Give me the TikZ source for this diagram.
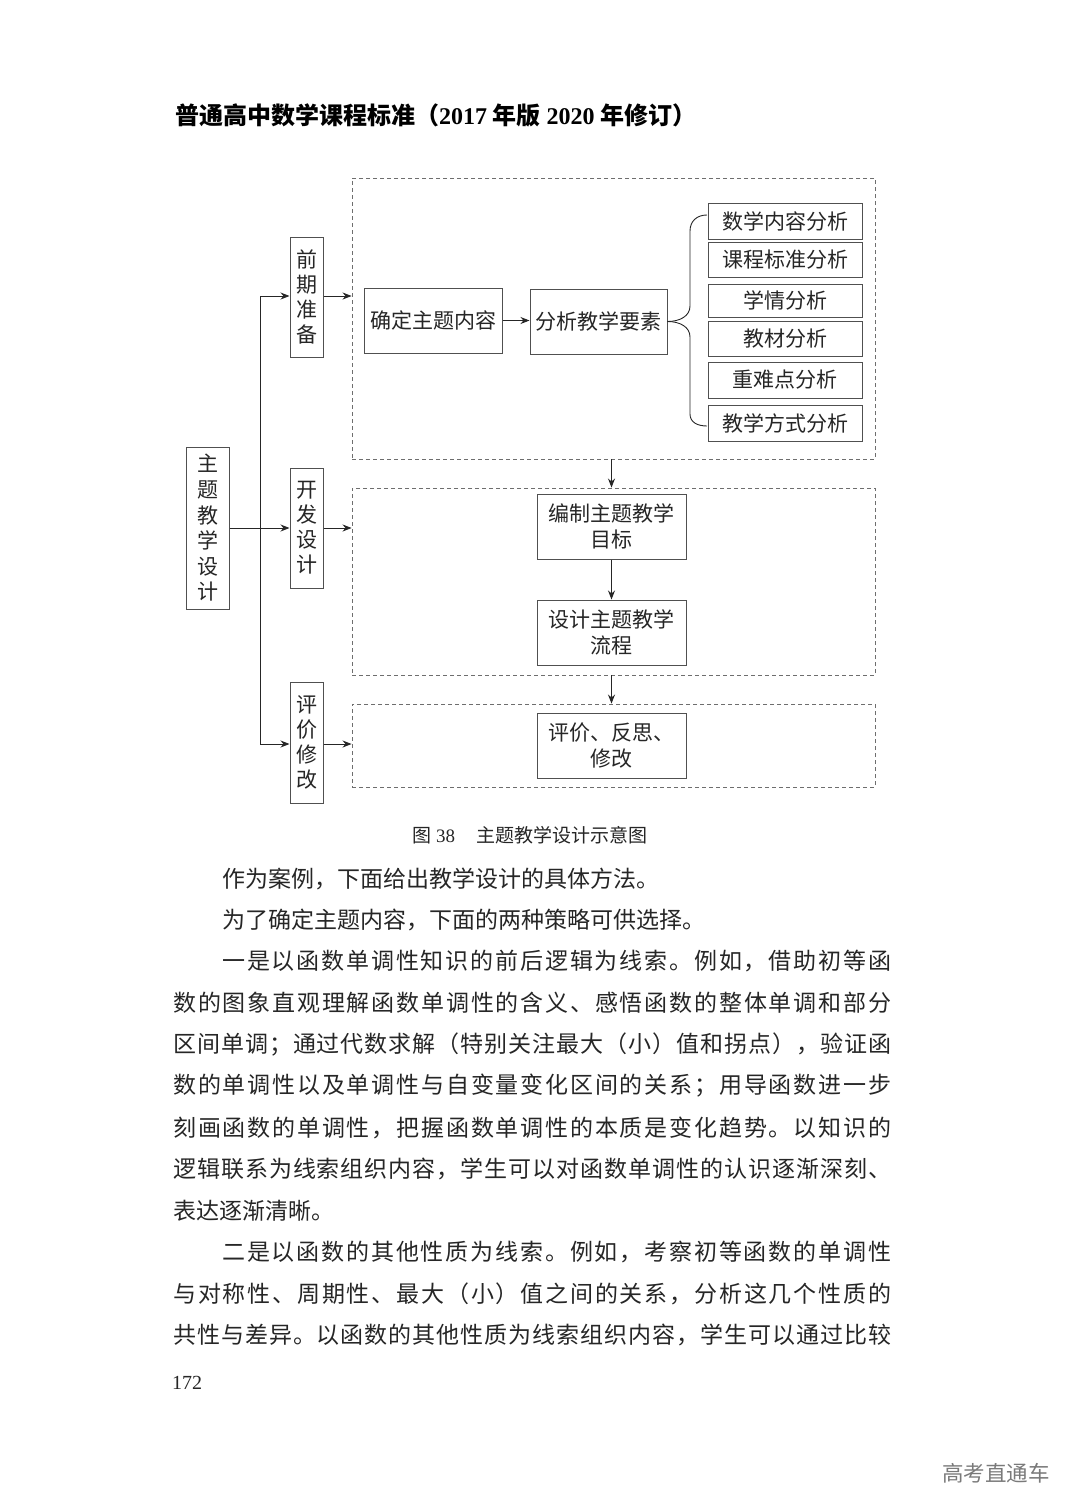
\documentclass[tikz,border=0pt]{standalone}
\usepackage{fontspec}
\setmainfont{Liberation Serif}
\newfontfamily\cjk{Noto Sans CJK SC}
\usetikzlibrary{arrows.meta}
\definecolor{ink}{HTML}{262626}
\definecolor{boxline}{HTML}{505050}
\definecolor{dashline}{HTML}{6E6E6E}
\definecolor{wm}{HTML}{7A7A7A}
\makeatletter
\def\spr@end{\spr@end}
\newcommand\spreadto[2]{\hbox to #1{\spr@first#2\spr@end}}
\def\spr@first#1{#1\spr@next}
\def\spr@next#1{\ifx#1\spr@end\else\hfil#1\expandafter\spr@next\fi}
\makeatother
\tikzset{
  box/.style={draw=boxline, line width=1pt, inner sep=0pt, text=ink,
    font=\cjk\fontsize{21}{26}\selectfont, align=center},
  vbox/.style={box, minimum width=33pt, minimum height=120pt,
    font=\cjk\fontsize{21}{25}\selectfont},
  rbox/.style={box, minimum width=154pt},
  mbox/.style={box, minimum width=149pt, minimum height=65pt},
  dbox/.style={draw=dashline, line width=0.9pt, dash pattern=on 4pt off 3pt, inner sep=0pt},
  arr/.style={draw=ink, line width=0.9pt, -{Stealth[length=9pt,width=7pt]}},
  ln/.style={draw=ink, line width=0.9pt},
  body/.style={anchor=west, inner sep=0pt, text=ink, font=\cjk\fontsize{23}{23}\selectfont},
}
\begin{document}
\begin{tikzpicture}[x=1pt,y=-1pt]
\path[fill=white] (0,0) rectangle (1080,1512);
\useasboundingbox (0,0) rectangle (1080,1512);

% header
\node[anchor=west, inner sep=0pt, text=black, font=\cjk\bfseries\fontsize{24}{24}\selectfont] (hd) at (175,115)
  {普通高中数学课程标准（\rmfamily 2017\cjk\ 年版\rmfamily\ 2020\cjk\ 年修订）};

% dashed groups
\node[dbox, minimum width=523pt, minimum height=281pt] (d1) at (613.5,318.5) {};
\node[dbox, minimum width=523pt, minimum height=187pt] (d2) at (613.5,581.5) {};
\node[dbox, minimum width=523pt, minimum height=83pt] (d3) at (613.5,745.5) {};

% left column
\node[box, minimum width=43pt, minimum height=162pt, font=\cjk\fontsize{21}{25.6}\selectfont] (main) at (207.5,528) {主\\题\\教\\学\\设\\计};
\node[vbox] (qq) at (306.5,297) {前\\期\\准\\备};
\node[vbox] (kf) at (306.5,528) {开\\发\\设\\计};
\node[vbox, minimum height=121pt] (pj) at (306.5,742.5) {评\\价\\修\\改};

% first group
\node[box, minimum width=138pt, minimum height=65pt] (qd) at (433,320.5) {确定主题内容};
\node[box, minimum width=137pt, minimum height=65pt] (fx) at (598.5,321.5) {分析教学要素};
\node[rbox, minimum height=36pt] (r1) at (785,221) {数学内容分析};
\node[rbox, minimum height=35pt] (r2) at (785,259.5) {课程标准分析};
\node[rbox, minimum height=33pt] (r3) at (785,300.5) {学情分析};
\node[rbox, minimum height=35pt] (r4) at (785,338.5) {教材分析};
\node[rbox, minimum height=36pt] (r5) at (785,380) {重难点分析};
\node[rbox, minimum height=36pt] (r6) at (785,423) {教学方式分析};

% second / third groups
\node[mbox] (bz) at (611.5,526.5) {编制主题教学\\目标};
\node[mbox] (sj) at (611.5,632.5) {设计主题教学\\流程};
\node[mbox] (pf) at (611.5,745.5) {评价、反思、\\修改};

% trunk and arrows
\coordinate (t1) at (260,296);
\coordinate (t2) at (260,744);
\draw[ln] (t1) -- (t2);
\draw[arr] (t1) -- (t1 -| qq.west);
\draw[arr] (t2) -- (t2 -| pj.west);
\draw[arr] (main.east) -- (main.east -| kf.west);
\draw[arr] (t1 -| qq.east) -- (t1 -| d1.west);
\draw[arr] (kf.east) -- (kf.east -| d2.west);
\draw[arr] (t2 -| pj.east) -- (t2 -| d3.west);
\draw[arr] (qd.east) -- (qd.east -| fx.west);
\draw[arr] (bz.north |- d1.south) -- (bz.north |- d2.north);
\draw[arr] (bz.south) -- (sj.north);
\draw[arr] (sj.south |- d2.south) -- (sj.south |- d3.north);

% brace
\coordinate (bt) at (707,215);
\coordinate (bb) at (707,426);
\draw[ln] (bt) .. controls (697,215) and (690,221) .. (690,231) -- (690,306)
  .. controls (690,316) and (680,321.5) .. (fx.east);
\draw[ln] (fx.east) .. controls (680,321.5) and (690,327) .. (690,337) -- (690,414)
  .. controls (690,422) and (697,426) .. (bb);

% caption
\node[anchor=west, inner sep=0pt, text=ink, font=\cjk\fontsize{19}{19}\selectfont] (cap) at (412,835)
  {图\hspace{5pt}{\rmfamily 38}\hspace{21pt}主题教学设计示意图};

% body text
\node[body] (l1) at (222,878.5) {作为案例，下面给出教学设计的具体方法。};
\node[body] (l2) at (222,920) {为了确定主题内容，下面的两种策略可供选择。};
\node[body] (l3) at (222,961.5) {\spreadto{669pt}{一是以函数单调性知识的前后逻辑为线索。例如，借助初等函}};
\node[body] (l4) at (173,1003) {\spreadto{718pt}{数的图象直观理解函数单调性的含义、感悟函数的整体单调和部分}};
\node[body] (l5) at (173,1044.5) {\spreadto{718pt}{区间单调；通过代数求解（特别关注最大（小）值和拐点），验证函}};
\node[body] (l6) at (173,1086) {\spreadto{718pt}{数的单调性以及单调性与自变量变化区间的关系；用导函数进一步}};
\node[body] (l7) at (173,1127.5) {\spreadto{718pt}{刻画函数的单调性，把握函数单调性的本质是变化趋势。以知识的}};
\node[body] (l8) at (173,1169) {\spreadto{718pt}{逻辑联系为线索组织内容，学生可以对函数单调性的认识逐渐深刻、}};
\node[body] (l9) at (173,1210.5) {表达逐渐清晰。};
\node[body] (l10) at (222,1252) {\spreadto{669pt}{二是以函数的其他性质为线索。例如，考察初等函数的单调性}};
\node[body] (l11) at (173,1293.5) {\spreadto{718pt}{与对称性、周期性、最大（小）值之间的关系，分析这几个性质的}};
\node[body] (l12) at (173,1335) {\spreadto{718pt}{共性与差异。以函数的其他性质为线索组织内容，学生可以通过比较}};

% page number and watermark
\node[anchor=west, inner sep=0pt, text=ink, font=\fontsize{20}{20}\selectfont] (pg) at (172,1383) {172};
\node[anchor=west, inner sep=0pt, text=wm, font=\cjk\fontsize{21.5}{21.5}\selectfont] (wmk) at (942,1473) {高考直通车};
\end{tikzpicture}
\end{document}
